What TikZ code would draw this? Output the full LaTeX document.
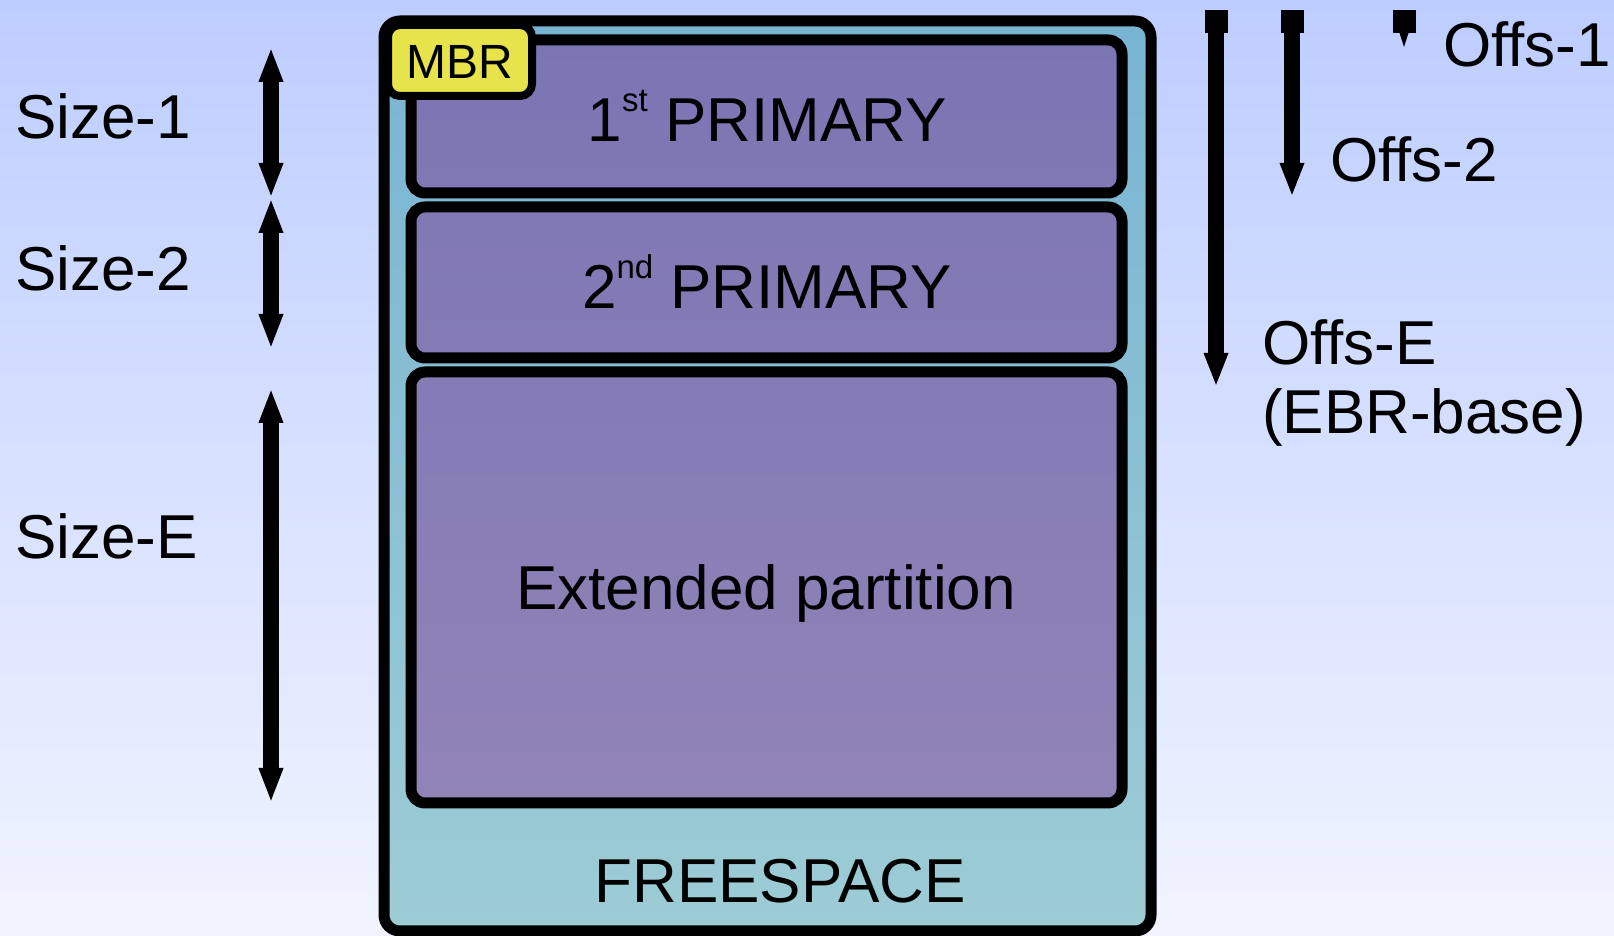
\documentclass[tikz,border=0pt]{standalone}
\usepackage{fontspec}
\setmainfont{Liberation Sans}
\usetikzlibrary{arrows.meta}
\definecolor{bgtop}{RGB}{189,205,255}
\definecolor{bgbot}{RGB}{241,244,255}
\definecolor{disktop}{RGB}{121,180,211}
\definecolor{diskbot}{RGB}{157,204,212}
\definecolor{parttop}{RGB}{124,117,180}
\definecolor{partbot}{RGB}{144,132,183}
\definecolor{mbrfill}{RGB}{230,228,74}
\newcommand{\supx}[1]{\raisebox{30pt}{\fontsize{33}{33}\selectfont #1}}
\tikzset{
  big/.style={font=\fontsize{62}{70}\selectfont, inner sep=0pt},
  diskbox/.style={draw=black, line width=11pt, rounded corners=16pt},
  partbox/.style={draw=black, line width=11pt, rounded corners=14pt},
  mbrbox/.style={draw=black, line width=8pt, rounded corners=12pt, fill=mbrfill},
  sizearrow/.style={line width=16pt, {Triangle[width=22pt,length=35pt]}-{Triangle[width=22pt,length=35pt]}},
  offsarrow/.style={line width=16pt, {Square[width=23pt,length=23pt]}-{Triangle[width=22pt,length=34pt]}},
}
\begin{document}
\begin{tikzpicture}[x=1pt,y=1pt]
\useasboundingbox (0,0) rectangle (1614,936);
\shade[top color=bgtop, bottom color=bgbot] (0,0) rectangle (1614,936);

% disk
\draw[diskbox, top color=disktop, bottom color=diskbot] (384,915) rectangle (1151,5);
\node[big, anchor=base] (free) at (780,33) {FREESPACE};

% partitions
\draw[partbox, top color=parttop, bottom color=partbot!20!parttop] (411,896) rectangle (1122,743);
\draw[partbox, top color=partbot!22!parttop, bottom color=partbot!42!parttop] (411,729) rectangle (1122,578);
\draw[partbox, top color=partbot!43!parttop, bottom color=partbot] (411,564) rectangle (1122,133);

\node[big, anchor=base] (p1) at (767,794) {1\supx{st} PRIMARY};
\node[big, anchor=base] (p2) at (767,627) {2\supx{nd} PRIMARY};
\node[big, anchor=base] (ext) at (766,326) {Extended partition};

% MBR
\draw[mbrbox] (388,911) rectangle (532,840);
\node[font=\fontsize{48}{50}\selectfont, inner sep=0pt, anchor=base] (mbr) at (460,857) {MBR};

% size labels
\node[big, anchor=base west] (s1) at (15,797) {Size-1};
\node[big, anchor=base west] (s2) at (15,645) {Size-2};
\node[big, anchor=base west] (se) at (15,377) {Size-E};

\coordinate (a1) at (271,889);
\coordinate (a2) at (271,738);
\coordinate (a3) at (271,587);
\coordinate (a4) at (271,548);
\coordinate (a5) at (271,133);
\draw[sizearrow] (a1) -- (a2);
\draw[sizearrow] (a2) -- (a3);
\draw[sizearrow] (a4) -- (a5);

% offsets
\coordinate (oe1) at (1216,926);
\coordinate (oe2) at (1216,549);
\coordinate (o21) at (1292,926);
\coordinate (o22) at (1292,739);
\draw[offsarrow] (oe1) -- (oe2);
\draw[offsarrow] (o21) -- (o22);
\fill (1392.5,926) rectangle (1415.5,903);
\fill (1399.5,903) -- (1408.5,903) -- (1404,889) -- cycle;

\node[big, anchor=base west] (of1) at (1443,869) {Offs-1};
\node[big, anchor=base west] (of2) at (1330,754) {Offs-2};
\node[big, anchor=base west] (ofe) at (1262,571) {Offs-E};
\node[big, anchor=base west] (ebr) at (1262,502) {(EBR-base)};
\end{tikzpicture}
\end{document}
